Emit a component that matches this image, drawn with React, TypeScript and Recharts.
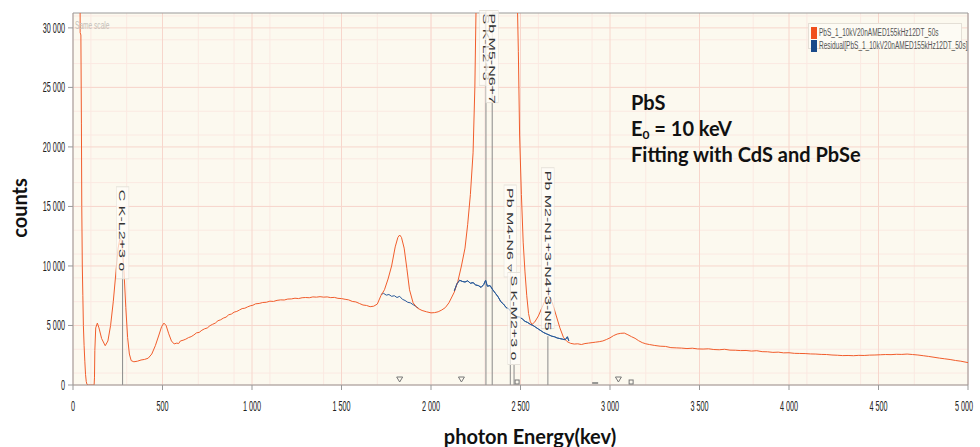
import React from 'react';
import { LineChart, Line, XAxis, YAxis, CartesianGrid, ReferenceLine, ReferenceDot, Legend } from 'recharts';

// ---- spectrum (photon energy in eV, counts), read in four stretches ----
const energyLow = [
  38, 40, 44, 47, 49, 52, 55, 58, 62, 66, 70, 74, 78, 85, 100, 118, 120, 122, 127, 136, 145, 160, 180, 195,
  210, 225, 240, 252, 262, 268, 275, 285, 295, 305, 315, 325, 340, 360, 380, 400, 420, 440, 460, 480, 495,
  508, 520, 535, 550,
];
const countsLow = [
  60000, 29600, 29400, 22000, 15000, 10000, 7500, 5000, 3300, 2000, 900, 300, 50, 0, 0, 0, 600, 2900, 4800, 5200, 4800, 3900, 3300, 3700,
  5000, 7000, 9500, 11500, 12300, 12250, 11500, 9500, 6500, 4000, 2600, 2050, 1950, 2000, 2100, 2150, 2250, 2600, 3300, 4200, 4900,
  5200, 5000, 4300, 3700,
];
const energyMid = [
  565, 580, 590, 600, 615, 630, 645, 660, 675, 690, 705, 720, 735, 750, 765, 780, 795, 810, 825, 840,
  855, 870, 885, 900, 915, 930, 945, 960, 975, 990, 1005, 1020, 1040, 1060, 1080, 1100, 1120, 1140, 1160, 1180,
  1200, 1220, 1240, 1260, 1280, 1300, 1320, 1340, 1360, 1380, 1400, 1420, 1440, 1460, 1480, 1500, 1520, 1540, 1560, 1580,
  1600, 1620, 1640, 1660, 1680, 1700,
];
const countsMid = [
  3450, 3520, 3480, 3700, 3760, 3850, 3980, 4060, 4200, 4380, 4420, 4600, 4720, 4790, 4980, 5100, 5200, 5400, 5480, 5620,
  5700, 5900, 5960, 6120, 6180, 6300, 6420, 6450, 6560, 6650, 6700, 6820, 6850, 6930, 6950, 7040, 7020, 7110, 7150, 7140,
  7220, 7230, 7290, 7260, 7330, 7350, 7330, 7400, 7380, 7420, 7380, 7400, 7340, 7360, 7280, 7260, 7200, 7150, 7020, 6980,
  6850, 6720, 6680, 6580, 6620, 6800,
];
const energyPeaks = [
  1720, 1740, 1760, 1780, 1800, 1815, 1825, 1835, 1850, 1865, 1880, 1900, 1925, 1950, 1975, 2000, 2020, 2040, 2060, 2080,
  2100, 2130, 2150, 2170, 2190, 2205, 2220, 2235, 2245, 2252, 2270, 2300, 2340, 2400, 2450, 2480, 2488, 2495, 2505, 2515,
  2525, 2535, 2545, 2555, 2565, 2580, 2600, 2620, 2640, 2655, 2665, 2680, 2700, 2720, 2740, 2760,
];
const countsPeaks = [
  7500, 8000, 8900, 10000, 11600, 12400, 12600, 12400, 11500, 9800, 8000, 6900, 6450, 6260, 6150, 6060, 6080, 6150, 6300, 6500,
  6900, 7800, 8700, 10000, 11500, 13500, 16000, 19500, 25000, 32000, 45000, 60000, 70000, 60000, 45000, 34000, 28000, 21000, 16000, 12000,
  9500, 7500, 6000, 5300, 5100, 5300, 5800, 6500, 7200, 7450, 7400, 6800, 5800, 4800, 4000, 3650,
];
const energyHigh = [
  2780, 2800, 2820, 2840, 2860, 2880, 2900, 2920, 2940, 2960, 2980, 3000, 3020, 3040, 3060, 3080, 3100, 3120, 3140, 3160,
  3180, 3200, 3220, 3250, 3280, 3310, 3340, 3370, 3400, 3430, 3460, 3490, 3520, 3550, 3580, 3610, 3640, 3670, 3700, 3730,
  3760, 3790, 3820, 3850, 3880, 3910, 3940, 3970, 4000, 4030, 4060, 4090, 4120, 4150, 4180, 4210, 4240, 4270, 4300, 4330,
  4360, 4390, 4420, 4450, 4480, 4510, 4540, 4570, 4600, 4630, 4660, 4690, 4720, 4750, 4780, 4810, 4840, 4870, 4900, 4930,
  4960, 5000,
];
const countsHigh = [
  3500, 3440, 3460, 3400, 3480, 3520, 3560, 3600, 3640, 3700, 3820, 3960, 4150, 4280, 4340, 4360, 4220, 4060, 3920, 3720,
  3560, 3460, 3400, 3320, 3260, 3240, 3140, 3120, 3100, 3060, 3090, 3030, 3020, 3040, 2980, 2960, 3000, 2930, 2920, 2890,
  2900, 2850, 2880, 2800, 2790, 2740, 2760, 2700, 2710, 2660, 2650, 2640, 2610, 2600, 2570, 2560, 2520, 2500, 2470, 2480,
  2460, 2490, 2480, 2510, 2520, 2540, 2560, 2550, 2580, 2570, 2600, 2560, 2520, 2460, 2400, 2330, 2260, 2200, 2140, 2060,
  2000, 1880,
];
const residualEnergy = [
  1720, 1735, 1750, 1765, 1780, 1795, 1810, 1825, 1840, 1855, 1870, 1885, 1900, 1915, 1930, 2030,
  2130, 2145, 2160, 2175, 2190, 2205, 2220, 2235, 2250, 2265, 2280, 2295, 2305, 2315, 2330, 2345, 2360,
  2375, 2390, 2405, 2420, 2435, 2450, 2465, 2480, 2495, 2510, 2525, 2540, 2555, 2570, 2585, 2600, 2615,
  2630, 2645, 2660, 2675, 2690, 2705, 2720, 2735, 2750, 2762, 2770,
];
const residualCounts: (number | null)[] = [
  7600, 7700, 7550, 7600, 7450, 7500, 7350, 7450, 7200, 7100, 6950, 6900, 6750, 6600, 6450, null,
  7900, 8500, 8800, 8700, 8650, 8750, 8550, 8600, 8400, 8350, 8200, 8450, 8800, 8300, 8350, 8000, 7700,
  7400, 7000, 6800, 6500, 6400, 6100, 5950, 5750, 5700, 5550, 5350, 5250, 5100, 5000, 4850, 4700, 4550,
  4400, 4300, 4200, 4100, 4050, 3950, 3900, 3850, 3800, 4050, 3700,
];
const xTicks = [0, 500, 1000, 1500, 2000, 2500, 3000, 3500, 4000, 4500, 5000];
const yTicks = [0, 5000, 10000, 15000, 20000, 25000, 30000];
const xMinor = Array.from({ length: 51 }, (_, i) => i * 100);
const yMinor = Array.from({ length: 32 }, (_, i) => i * 1000);

const seriesNames = ['PbS_1_10kV20nAMED155kHz12DT_50s', 'Residual[PbS_1_10kV20nAMED155kHz12DT_50s]'];
const seriesColors = ['#f15d2c', '#2a5b9a'];

// X-ray line markers
const markerLabels = ['C K-L2+3', 'S K-L2+3', 'Pb M5-N6+7', 'Pb M4-N6', 'S K-M2+3', 'Pb M2-N1+3-N4+3-N5'];
const markerSymbols = ['o', '', '', '▿', 'o', ''];
const markerEnergy = [277, 2307, 2342, 2443, 2464, 2653];
const markerLabelTop = [16400, 31200, 31200, 16550, 9200, 18000];
const markerLineTop: (number | null)[] = [9750, null, null, 9900, 1750, 4100];
const minorMarkerEnergy = [1825, 2170, 2481, 2917, 3047, 3118];
const minorMarkerKind = ['tri', 'tri', 'sq', 'dash', 'tri', 'sq'];

const energy = [...energyLow, ...energyMid, ...energyPeaks, ...energyHigh];
const counts = [...countsLow, ...countsMid, ...countsPeaks, ...countsHigh];
const spectrumData = energy.map((e, i) => ({ e, c: counts[i] }));
const residualData = residualEnergy.map((e, i) => ({ e, r: residualCounts[i] }));

const Y_MAX = 31250;

const fmt = (v: number) =>
  v >= 1000 ? `${Math.floor(v / 1000)} ${String(v % 1000).padStart(3, '0')}` : String(v);

const XTick = (props: any) => {
  const { x, y, payload } = props;
  return (
    <g transform={`translate(${x},${y})`}>
      <text transform="scale(0.52,1)" textAnchor="middle" dy="0.71em" fontSize={14} fill="#222" fontFamily="Liberation Sans, Arial, sans-serif">
        {fmt(payload.value)}
      </text>
    </g>
  );
};
const YTick = (props: any) => {
  const { x, y, payload } = props;
  return (
    <g transform={`translate(${x},${y})`}>
      <text transform="scale(0.52,1)" textAnchor="end" dy="0.355em" fontSize={14} fill="#222" fontFamily="Liberation Sans, Arial, sans-serif">
        {fmt(payload.value)}
      </text>
    </g>
  );
};

const RotLabel = ({ cx, cy, text }: { cx: number; cy: number; text: string }) => {
  const len = text.length * 8.6;
  return (
    <g transform={`translate(${cx},${cy}) rotate(90) scale(1,0.57)`}>
      <rect x={-3} y={-11} width={len + 6} height={22} fill="#fffefa" fillOpacity={0.7} stroke="#e6e2da" strokeWidth={1} />
      <text x={0} y={0} dominantBaseline="central" fontSize={16} fill="#333" fontFamily="Liberation Sans, Arial, sans-serif">
        {text}
      </text>
    </g>
  );
};

const SmallMark = ({ cx, cy, kind }: { cx: number; cy: number; kind: string }) => {
  if (kind === 'tri')
    return <path d={`M${cx - 3},${cy - 8} L${cx + 3},${cy - 8} L${cx},${cy - 3} Z`} fill="none" stroke="#777" strokeWidth={1} />;
  if (kind === 'sq') return <rect x={cx - 2} y={cy - 5} width={4} height={4} fill="none" stroke="#777" strokeWidth={1} />;
  return <line x1={cx - 3} y1={cy - 2} x2={cx + 3} y2={cy - 2} stroke="#777" strokeWidth={1.5} />;
};

const renderLegend = () => (
  <div
    style={{
      border: '1px solid #e4dfd6',
      background: '#fdfbf4',
      padding: '2px 2px',
      width: 154,
      height: 26,
      boxSizing: 'border-box',
      fontFamily: 'Liberation Sans, Arial, sans-serif',
    }}
  >
    {seriesNames.map((n, i) => (
      <div key={n} style={{ display: 'flex', alignItems: 'center', height: 13, whiteSpace: 'nowrap' }}>
        <div style={{ width: 6, height: 12, background: i === 0 ? '#f04e1c' : '#1a4a8a', flex: 'none' }} />
        <span style={{ fontSize: 10, color: '#555', marginLeft: 2, display: 'inline-block', transform: 'scaleX(0.65)', transformOrigin: 'left center' }}>
          {n}
        </span>
      </div>
    ))}
  </div>
);

const noteStyle: React.CSSProperties = {
  position: 'absolute',
  left: 631,
  fontFamily: 'Lato, sans-serif',
  fontWeight: 700,
  fontSize: 20,
  color: '#111',
  lineHeight: '20px',
  whiteSpace: 'nowrap',
};

export default function App() {
  return (
    <div style={{ position: 'absolute', left: 0, top: 0, width: 980, height: 447, background: '#fff' }}>
      <LineChart width={980} height={447} margin={{ top: 13, right: 12, left: 0, bottom: 32 }}>
        <CartesianGrid fill="#fcf9ef" stroke="#fbe9e2" strokeWidth={1} horizontalValues={yMinor} verticalValues={xMinor} />
        <CartesianGrid fill="none" stroke="#f7d6cc" strokeWidth={1} horizontalValues={yTicks} verticalValues={xTicks} />
        <XAxis
          dataKey="e"
          type="number"
          domain={[0, 5000]}
          ticks={xTicks}
          allowDataOverflow
          height={30}
          tick={<XTick />}
          tickSize={5}
          tickMargin={11}
          stroke="#999"
        />
        <YAxis
          type="number"
          domain={[0, Y_MAX]}
          ticks={yTicks}
          allowDataOverflow
          width={73}
          tick={<YTick />}
          tickSize={5}
          tickMargin={3}
          stroke="#999"
        />
        <ReferenceLine y={Y_MAX} stroke="#999" ifOverflow="visible" />
        <ReferenceLine x={5000} stroke="#999" ifOverflow="visible" />
        {markerEnergy.map((e, i) =>
          markerLineTop[i] === null ? (
            <ReferenceLine key={'l' + i} x={e} stroke="#8a8a8a" strokeWidth={1} />
          ) : (
            <ReferenceLine
              key={'l' + i}
              segment={[
                { x: e, y: 0 },
                { x: e, y: markerLineTop[i] as number },
              ]}
              stroke="#8a8a8a"
              strokeWidth={1}
            />
          )
        )}
        <Line
          data={residualData}
          dataKey="r"
          stroke={seriesColors[1]}
          strokeWidth={1}
          dot={false}
          isAnimationActive={false}
          connectNulls={false}
          name={seriesNames[1]}
        />
        <Line
          data={spectrumData}
          dataKey="c"
          stroke={seriesColors[0]}
          strokeWidth={1}
          dot={false}
          isAnimationActive={false}
          name={seriesNames[0]}
        />
        <Line
          data={residualData.filter((d) => d.e >= 2100)}
          dataKey="r"
          stroke={seriesColors[1]}
          strokeWidth={1}
          dot={false}
          isAnimationActive={false}
          legendType="none"
        />
        {markerEnergy.map((e, i) => (
          <ReferenceDot
            key={'t' + i}
            x={e}
            y={markerLabelTop[i]}
            ifOverflow="visible"
            shape={(p: any) => (
              <RotLabel cx={p.cx} cy={p.cy} text={markerSymbols[i] ? `${markerLabels[i]} ${markerSymbols[i]}` : markerLabels[i]} />
            )}
          />
        ))}
        {minorMarkerEnergy.map((e, i) => (
          <ReferenceDot
            key={'m' + i}
            x={e}
            y={0}
            ifOverflow="visible"
            shape={(p: any) => <SmallMark cx={p.cx} cy={p.cy} kind={minorMarkerKind[i]} />}
          />
        ))}
        <Legend
          layout="vertical"
          align="center"
          verticalAlign="middle"
          content={renderLegend}
          wrapperStyle={{ position: 'absolute', left: 808, top: 23, width: 158, height: 28 }}
        />
      </LineChart>
      <div style={{ position: 'absolute', left: 75, top: 19, fontSize: 11, color: '#c4c0b8', fontFamily: 'Liberation Sans, Arial, sans-serif', transform: 'scaleX(0.6)', transformOrigin: 'left top', whiteSpace: 'nowrap' }}>
        Same scale
      </div>
      <div style={{ ...noteStyle, top: 92 }}>PbS</div>
      <div style={{ ...noteStyle, top: 118 }}>
        E<span style={{ fontSize: 12, lineHeight: '12px', position: 'relative', top: 3 }}>0</span> = 10 keV
      </div>
      <div style={{ ...noteStyle, top: 144 }}>Fitting with CdS and PbSe</div>
      <div style={{ position: 'absolute', left: 0, width: 1060, top: 424, textAlign: 'center', fontFamily: 'Lato, sans-serif', fontWeight: 700, fontSize: 20, color: '#111', whiteSpace: 'nowrap' }}>
        photon Energy(kev)
      </div>
      <div style={{ position: 'absolute', left: 19, top: 208, width: 0, height: 0 }}>
        <div style={{ position: 'absolute', transform: 'translate(-50%,-50%) rotate(-90deg)', fontFamily: 'Lato, sans-serif', fontWeight: 700, fontSize: 20, color: '#111', whiteSpace: 'nowrap' }}>
          counts
        </div>
      </div>
    </div>
  );
}
